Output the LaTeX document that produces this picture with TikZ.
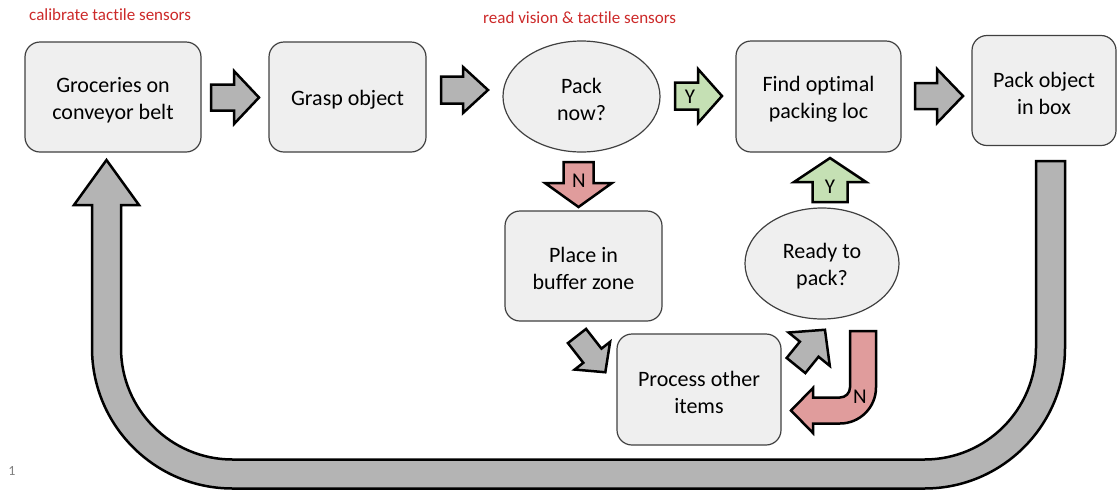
\documentclass[tikz,border=0pt]{standalone}
\usepackage{fontspec}
\setmainfont{Carlito}[Ligatures=NoCommon]
\usetikzlibrary{shapes.geometric}
\definecolor{boxfill}{RGB}{239,239,239}
\definecolor{boxdraw}{RGB}{64,64,64}
\definecolor{arrgray}{RGB}{180,180,180}
\definecolor{arrgreen}{RGB}{197,224,180}
\definecolor{arrred}{RGB}{224,156,156}
\definecolor{notered}{RGB}{204,41,41}
\newcommand{\topstrut}{\rule{0pt}{21pt}}
\tikzset{
  box/.style={rectangle, rounded corners=15pt, draw=boxdraw, line width=1.2pt, fill=boxfill,
    align=center, font=\fontsize{22}{27}\selectfont, inner sep=0pt},
  decision/.style={ellipse, draw=boxdraw, line width=1.2pt, fill=boxfill,
    align=center, font=\fontsize{22}{27}\selectfont, inner sep=0pt},
  arrowline/.style={draw=black, line width=2.5pt, line join=miter},
  lbl/.style={font=\fontsize{21}{24}\selectfont, inner sep=0pt},
  note/.style={text=notered, font=\fontsize{17}{20}\selectfont, inner sep=0pt},
  pics/barrow/.style n args={5}{code={
    \draw[arrowline, fill=#5] (0,{-(#2)/2}) -- ({#1-#4},{-(#2)/2}) -- ({#1-#4},{-(#3)/2})
      -- (#1,0) -- ({#1-#4},{(#3)/2}) -- ({#1-#4},{(#2)/2}) -- (0,{(#2)/2}) -- cycle;
  }}
}
\begin{document}
\begin{tikzpicture}[x=1pt, y=1pt, yscale=-1]
\useasboundingbox (0,0) rectangle (1117,491);

% big return arrow
\draw[arrowline, fill=arrgray] (1036,161) -- (1065,161) -- (1065,348)
  arc[start angle=0, end angle=90, radius=140.5pt] -- (232.5,488.5)
  arc[start angle=90, end angle=180, radius=140.5pt] -- (92,205) -- (74,205)
  -- (106.5,160) -- (139,205) -- (121,205) -- (121,348)
  arc[start angle=180, end angle=90, radius=111.5pt] -- (924.5,459.5)
  arc[start angle=90, end angle=0, radius=111.5pt] -- cycle;

% nodes
\node[box, minimum width=176pt, minimum height=110pt] (b1) at (113,97) {\topstrut Groceries on\\conveyor belt};
\node[box, minimum width=157pt, minimum height=110pt] (b2) at (347.5,97) {\topstrut Grasp object};
\node[decision, minimum width=157pt, minimum height=111pt] (e1) at (581.5,96.5) {\topstrut Pack\\now?};
\node[box, minimum width=165pt, minimum height=111pt] (b3) at (818.5,96.5) {\topstrut Find optimal\\packing loc};
\node[box, minimum width=144pt, minimum height=110pt] (b4) at (1044,90.5) {\topstrut Pack object\\in box};
\node[box, minimum width=157pt, minimum height=110pt] (b5) at (583.5,266) {\topstrut Place in\\buffer zone};
\node[decision, minimum width=154pt, minimum height=111pt] (e2) at (822,263.5) {\topstrut Ready to\\pack?};
\node[box, minimum width=164pt, minimum height=111pt] (b6) at (699,389.5) {\topstrut Process other\\items};

% block arrows
\pic (a1) at (211,97.5) {barrow={48}{26}{53}{25}{arrgray}};
\pic (a2) at (441,90) {barrow={47}{27}{46}{25}{arrgray}};
\pic (ay1) at (675,96) {barrow={47}{27}{54}{24}{arrgreen}};
\pic (a3) at (915,96) {barrow={48}{26}{54}{26}{arrgray}};
\pic[rotate=-90] (an1) at (578.5,162) {barrow={45}{30}{67}{24}{arrred}};
\pic[rotate=90] (ay2) at (830,202) {barrow={44}{35}{72}{24}{arrgreen}};
\pic[rotate=-52] (ad1) at (577,336) {barrow={46}{23}{45}{21}{arrgray}};
\pic[rotate=51] (ad2) at (796,365.5) {barrow={46}{24}{53}{25}{arrgray}};

% red U-turn arrow
\draw[arrowline, fill=arrred] (850,331) -- (876,331) -- (876,387.5)
  arc[start angle=0, end angle=90, radius=36pt] -- (813,423.5) -- (813,433)
  -- (791,410.5) -- (813,388) -- (813,397.5) -- (840,397.5)
  arc[start angle=90, end angle=0, radius=10pt] -- cycle;

% labels
\node[lbl] (ly1) at (690,97) {Y};
\node[lbl] (ln1) at (579,181) {N};
\node[lbl] (ly2) at (830,187) {Y};
\node[lbl] (ln2) at (860,397) {N};

% notes
\node[note, anchor=west] (n1) at (29,15) {calibrate tactile sensors};
\node[note, anchor=west] (n2) at (483,18) {read vision \& tactile sensors};
\node[font=\fontsize{14}{16}\selectfont, text=gray, inner sep=0pt] (pg) at (12,471) {1};
\end{tikzpicture}
\end{document}
